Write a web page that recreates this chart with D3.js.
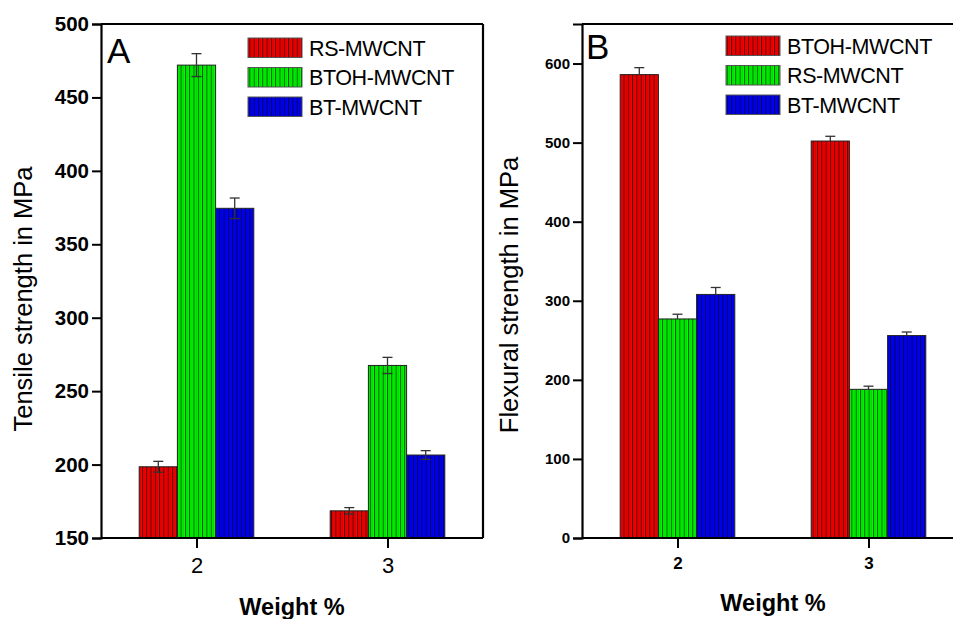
<!DOCTYPE html>
<html>
<head>
<meta charset="utf-8">
<script src="https://cdn.jsdelivr.net/npm/d3@7"></script>
<style>
  html, body { margin: 0; padding: 0; background: #fff; }
  svg { display: block; font-family: Arial, "Liberation Sans", sans-serif; }
</style>
</head>
<body>
<svg id="chart" width="953" height="619"></svg>
<script>
// ---------- data ----------
const categories = [2, 3];

// Panel A : tensile strength
const seriesA = ["RS-MWCNT", "BTOH-MWCNT", "BT-MWCNT"];
const valuesA = [[198.5, 168.5], [472, 267.5], [374.5, 206.5]];
const errorsA = [[3.7, 2.2], [7.8, 5.5], [7, 3]];
const ticksA = [150, 200, 250, 300, 350, 400, 450, 500];

// Panel B : flexural strength
const seriesB = ["BTOH-MWCNT", "RS-MWCNT", "BT-MWCNT"];
const valuesB = [[586, 502], [277, 188], [308, 256]];
const errorsB = [[8.8, 6], [6, 4], [8.8, 4.5]];
const ticksB = [0, 100, 200, 300, 400, 500, 600];

const colorsA = ["#ff0000", "#00ff00", "#0000ff"];
const colorsB = ["#ff0000", "#00ff00", "#0000ff"];

// ---------- drawing ----------
const svg = d3.select("#chart");
const defs = svg.append("defs");

function makePattern(id, color) {
  const p = defs.append("pattern")
    .attr("id", id).attr("patternUnits", "userSpaceOnUse")
    .attr("width", 4.3).attr("height", 10);
  p.append("rect").attr("width", 4.3).attr("height", 10).attr("fill", color);
  p.append("rect").attr("x", 0).attr("width", 1).attr("height", 10).attr("fill", "#000").attr("opacity", 0.7);
  p.append("rect").attr("x", 2.2).attr("width", 1).attr("height", 10).attr("fill", "#000").attr("opacity", 0.18);
}
const patId = c => "pat" + c.replace("#", "");
["#ff0000", "#00ff00", "#0000ff"].forEach(c => makePattern(patId(c), c));

function panel(cfg) {
  const g = svg.append("g");
  const x = d3.scaleLinear().domain([1.5, 3.5]).range([cfg.left, cfg.left + 382]);
  const y = d3.scaleLinear().domain(cfg.yDomain).range([538, 24]);
  const bw = x(1.7) - x(1.5);

  // bars
  cfg.series.forEach((s, i) => {
    categories.forEach((c, j) => {
      const v = cfg.values[i][j], e = cfg.errors[i][j];
      const x0 = x(c) + (i - 1.5) * bw;
      g.append("rect")
        .attr("x", x0).attr("y", y(v))
        .attr("width", bw).attr("height", y(cfg.yDomain[0]) - y(v))
        .attr("fill", `url(#${patId(cfg.colors[i])})`)
        .attr("stroke", "#222").attr("stroke-width", 1);
      const cx = x0 + bw / 2;
      const lo = cfg.bothErr ? v - e : v;
      g.append("line").attr("x1", cx).attr("x2", cx)
        .attr("y1", y(v + e)).attr("y2", y(lo))
        .attr("stroke", "#333").attr("stroke-width", 1.3);
      g.append("line").attr("x1", cx - 5).attr("x2", cx + 5)
        .attr("y1", y(v + e)).attr("y2", y(v + e))
        .attr("stroke", "#333").attr("stroke-width", 1.3);
      if (cfg.bothErr) {
        g.append("line").attr("x1", cx - 5).attr("x2", cx + 5)
          .attr("y1", y(lo)).attr("y2", y(lo))
          .attr("stroke", "#333").attr("stroke-width", 1.3);
      }
    });
  });

  // axes
  const yAxis = d3.axisLeft(y).tickValues(cfg.ticks).tickSize(9).tickPadding(3).tickFormat(d3.format("d"));
  const ya = g.append("g").attr("transform", `translate(${cfg.left},0)`).call(yAxis);
  ya.selectAll("text").attr("font-size", cfg.tickFont).attr("font-weight", "bold").attr("fill", "#000");

  const xAxis = d3.axisBottom(x).tickValues(categories).tickSize(10).tickPadding(cfg.xTickPad).tickFormat(d3.format("d"));
  const xa = g.append("g").attr("transform", `translate(0,538)`).call(xAxis);
  xa.selectAll("text").attr("font-size", cfg.xTickFont).attr("font-weight", cfg.xTickWeight).attr("fill", "#000");

  [ya, xa].forEach(a => {
    a.select(".domain").attr("stroke", "#000").attr("stroke-width", 2.2);
    a.selectAll(".tick line").attr("stroke", "#000").attr("stroke-width", 2);
  });
  xa.select(".domain").attr("d", `M${cfg.left},0H${cfg.left + 382}`);

  // frame top & right
  g.append("line").attr("x1", cfg.left).attr("x2", cfg.left + 382).attr("y1", 24).attr("y2", 24)
    .attr("stroke", "#000").attr("stroke-width", 2.2);
  g.append("line").attr("x1", cfg.left + 382).attr("x2", cfg.left + 382).attr("y1", 24).attr("y2", 538)
    .attr("stroke", "#000").attr("stroke-width", 2.2);

  // axis titles
  g.append("text").attr("transform", `translate(${cfg.yTitleX},${cfg.yTitleY}) rotate(-90)`)
    .attr("text-anchor", "middle").attr("font-size", 25.5).text(cfg.yTitle);
  g.append("text").attr("x", cfg.xTitleX).attr("y", cfg.xTitleY)
    .attr("text-anchor", "middle").attr("font-size", 23.5).attr("font-weight", "bold").text("Weight %");

  // panel letter
  g.append("text").attr("x", cfg.letterX).attr("y", cfg.letterY)
    .attr("font-size", 35).text(cfg.letter);

  // legend
  cfg.series.forEach((s, i) => {
    const ly = cfg.legY + i * 29.5;
    g.append("rect").attr("x", cfg.legX).attr("y", ly).attr("width", 54).attr("height", 19.5)
      .attr("fill", `url(#${patId(cfg.colors[i])})`).attr("stroke", "#555").attr("stroke-width", 1);
    g.append("text").attr("x", cfg.legX + 61).attr("y", ly + 17.5)
      .attr("font-size", 21.5).attr("letter-spacing", -0.4).text(s);
  });
}

panel({
  left: 101, yDomain: [150, 500], ticks: ticksA, series: seriesA, values: valuesA, errors: errorsA,
  colors: colorsA, bothErr: true, tickFont: 20.5, xTickFont: 22, xTickWeight: "normal", xTickPad: 9,
  yTitle: "Tensile strength in MPa", yTitleX: 32, yTitleY: 299, xTitleX: 292, xTitleY: 615,
  letter: "A", letterX: 107, letterY: 63, legX: 248, legY: 38
});
panel({
  left: 582, yDomain: [0, 650], ticks: ticksB, series: seriesB, values: valuesB, errors: errorsB,
  colors: colorsB, bothErr: false, tickFont: 15, xTickFont: 17, xTickWeight: "bold", xTickPad: 9,
  yTitle: "Flexural strength in MPa", yTitleX: 518, yTitleY: 295, xTitleX: 773, xTitleY: 611,
  letter: "B", letterX: 586, letterY: 59, legX: 726, legY: 36
});
</script>
</body>
</html>
